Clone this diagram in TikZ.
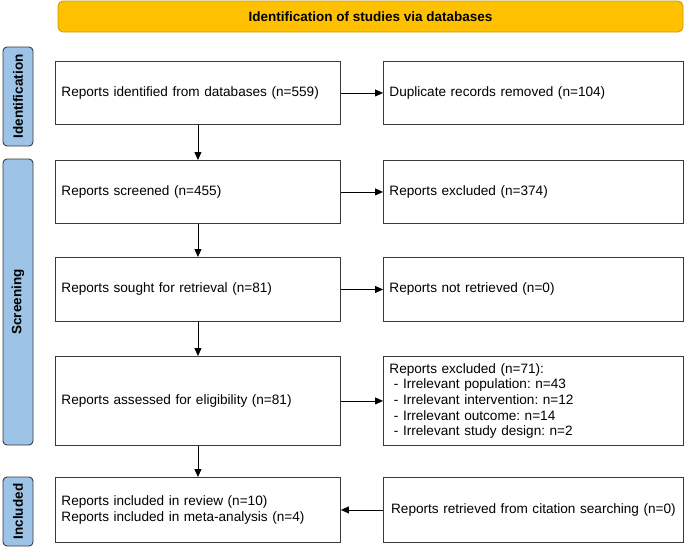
\documentclass[tikz,border=0pt]{standalone}
\usepackage{fontspec}
\setmainfont{Liberation Sans}
\usetikzlibrary{arrows.meta}
\frenchspacing
\definecolor{bannerfill}{HTML}{FFC000}
\definecolor{bannerline}{HTML}{C99A00}
\definecolor{sidefill}{HTML}{9DC3E6}
\definecolor{sideline}{HTML}{3A3A3A}
\definecolor{boxline}{HTML}{3A3A3A}
\tikzset{
  txt/.style={font=\fontsize{13.6}{15.6}\selectfont\frenchspacing},
  lbox/.style={txt, draw=boxline, line width=0.9pt, anchor=north west, align=left,
    text width=273pt, inner xsep=6pt, inner ysep=0pt},
  rbox/.style={txt, draw=boxline, line width=0.9pt, anchor=north west, align=left,
    text width=288pt, inner xsep=6pt, inner ysep=0pt},
  sidebox/.style={font=\fontsize{13.5}{15}\selectfont\bfseries, draw=sideline, fill=sidefill,
    line width=0.9pt, rounded corners=4pt, rotate=90, minimum height=30pt, inner sep=0pt},
  banner/.style={font=\fontsize{13.5}{15}\selectfont\bfseries, draw=bannerline, fill=bannerfill,
    line width=0.8pt, rounded corners=5pt, minimum width=625pt, minimum height=31pt, inner sep=0pt},
  arr/.style={-{Triangle[length=8pt,width=7pt]}, line width=0.9pt, black}
}
\begin{document}
\begin{tikzpicture}[x=1pt,y=1pt]
\useasboundingbox (0,0) rectangle (685,-547);
% banner
\node[banner] (ban) at (370.5,-16.5) {Identification of studies via databases};
% side labels
\node[sidebox, minimum width=99pt] (sid) at (18,-96.5) {Identification};
\node[sidebox, minimum width=286pt] (sscr) at (18,-302) {Screening};
\node[sidebox, minimum width=69pt] (sinc) at (18,-511.5) {Included};
% left boxes
\node[lbox, minimum height=63pt] (b1) at (55,-61) {Reports identified from databases (n=559)};
\node[lbox, minimum height=63pt] (b2) at (55,-160) {Reports screened (n=455)};
\node[lbox, minimum height=64pt] (b3) at (55,-257) {Reports sought for retrieval (n=81)};
\node[lbox, minimum height=89pt] (b4) at (55,-356) {Reports assessed for eligibility (n=81)};
\node[lbox, minimum height=65pt] (b5) at (55,-477) {Reports included in review (n=10)\\Reports included in meta-analysis (n=4)};
% right boxes
\node[rbox, minimum height=63pt] (r1) at (383,-61) {Duplicate records removed (n=104)};
\node[rbox, minimum height=63pt] (r2) at (383,-160) {Reports excluded (n=374)};
\node[rbox, minimum height=64pt] (r3) at (383,-257) {Reports not retrieved (n=0)};
\node[rbox, minimum height=89pt] (r4) at (383,-356) {Reports excluded (n=71):\\
\ - Irrelevant population: n=43\\
\ - Irrelevant intervention: n=12\\
\ - Irrelevant outcome: n=14\\
\ - Irrelevant study design: n=2};
\node[rbox, minimum height=65pt, align=center] (r5) at (383,-477) {Reports retrieved from citation searching (n=0)};
% arrows
\draw[arr] (b1) -- (b2);
\draw[arr] (b2) -- (b3);
\draw[arr] (b3) -- (b4);
\draw[arr] (b4) -- (b5);
\draw[arr] (b1) -- (r1);
\draw[arr] (b2) -- (r2);
\draw[arr] (b3) -- (r3);
\draw[arr] (b4) -- (r4);
\draw[arr] (r5) -- (b5);
\end{tikzpicture}
\end{document}
